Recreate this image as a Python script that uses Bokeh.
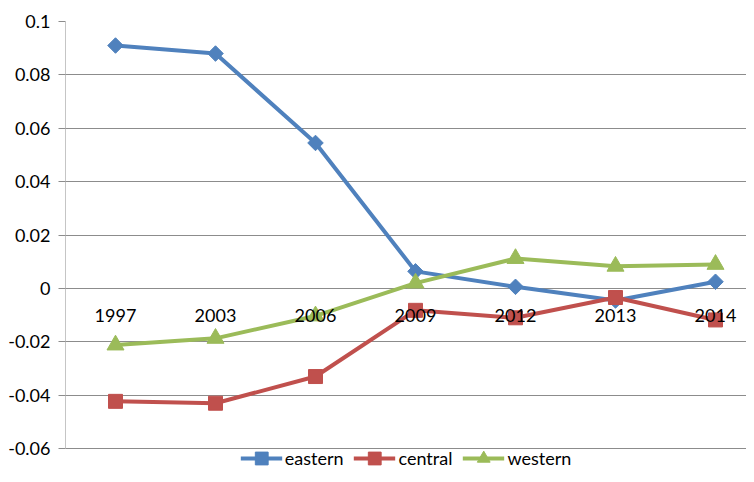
from bokeh.plotting import figure
from bokeh.models import FixedTicker, Legend, LegendItem, Range1d
from bokeh.core.properties import value
from bokeh.embed import file_html
from bokeh.resources import INLINE
import math

years = ["1997", "2003", "2006", "2009", "2012", "2013", "2014"]
eastern = [0.091, 0.088, 0.0545, 0.0064, 0.0006, -0.0045, 0.0025]
central = [-0.0423, -0.0430, -0.0330, -0.0082, -0.0110, -0.0034, -0.0118]
western = [-0.0212, -0.0187, -0.0103, 0.0020, 0.0112, 0.0083, 0.0090]
y_ticks = [-0.06, -0.04, -0.02, 0, 0.02, 0.04, 0.06, 0.08, 0.1]
y_labels = ["-0.06", "-0.04", "-0.02", "0", "0.02", "0.04", "0.06", "0.08", "0.1"]

FONT = "Lato"
FS = "18px"
GRID = "#8c8c8c"

xs = list(range(len(years)))
y_min, y_max = y_ticks[0], y_ticks[-1]

p = figure(width=746, height=474, output_backend="svg", toolbar_location=None,
           x_axis_location=None,
           x_range=Range1d(-0.5, 6.31), y_range=Range1d(-0.0697, 0.1),
           min_border_left=65, min_border_top=21, min_border_right=0, min_border_bottom=0)
p.outline_line_color = None
p.background_fill_color = "white"
p.border_fill_color = "white"

# y axis (line drawn separately so it stops at the lowest tick)
p.yaxis.ticker = FixedTicker(ticks=y_ticks)
p.yaxis.major_label_overrides = {t: l for t, l in zip(y_ticks, y_labels)}
p.yaxis.axis_line_color = None
p.yaxis.major_tick_line_color = GRID
p.yaxis.major_tick_out = 7
p.yaxis.major_tick_in = 0
p.yaxis.minor_tick_line_color = None
p.yaxis.major_label_text_font = FONT
p.yaxis.major_label_text_font_size = FS
p.yaxis.major_label_text_color = "black"
p.yaxis.major_label_standoff = 8

p.xgrid.grid_line_color = None
p.ygrid.ticker = FixedTicker(ticks=y_ticks)
p.ygrid.grid_line_color = GRID
p.ygrid.grid_line_width = 1

x_left = -0.5
p.segment(x0=[x_left], x1=[x_left], y0=[y_min], y1=[y_max], line_color=GRID, line_width=1)

# category axis drawn along y = 0
bounds = [i + 0.5 for i in xs]
p.segment(x0=bounds, x1=bounds, y0=[0] * len(bounds), y1=[0] * len(bounds),
          line_color=GRID, line_width=1)

series = [
    ("eastern", eastern, "#4F81BD", "square", 11, math.pi / 4),
    ("central", central, "#C0504D", "square", 14, 0),
    ("western", western, "#9BBB59", "triangle", 17, 0),
]
items = []
for name, vals, col, mk, sz, ang in series:
    r1 = p.line(xs, vals, line_color=col, line_width=4)
    r2 = p.scatter(xs, vals, marker=mk, size=sz, angle=ang,
                   fill_color=col, line_color=col)
    items.append(LegendItem(label=name, renderers=[r1, r2]))

# category labels drawn on top of the series
p.text(x=xs, y=[0] * len(xs), text=years, text_font=value(FONT), text_font_size=FS,
       text_color="black", text_align="center", text_baseline="top", y_offset=21)

legend = Legend(items=items, orientation="horizontal", location="bottom_center",
                label_text_font=FONT, label_text_font_size=FS, label_text_color="black",
                glyph_width=42, glyph_height=32, spacing=10, padding=0, margin=0,
                label_standoff=3, border_line_color=None, background_fill_alpha=0)
p.add_layout(legend)

open("out.html", "w").write(file_html(p, INLINE))
